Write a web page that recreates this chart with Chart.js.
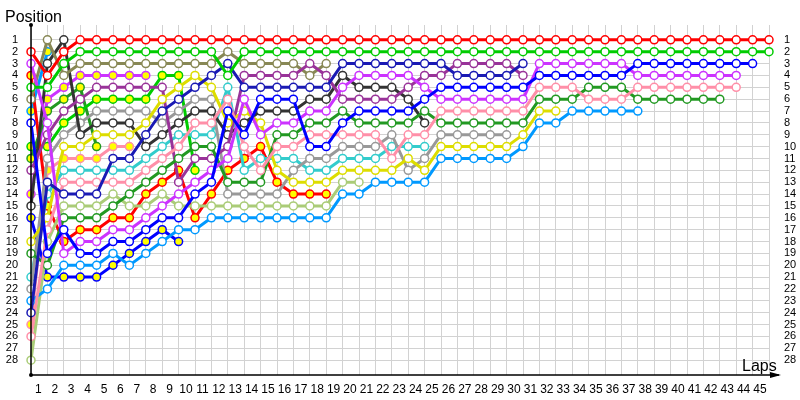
<!DOCTYPE html>
<html>
<head>
<meta charset="utf-8">
<script src="https://cdn.jsdelivr.net/npm/chart.js@4"></script>
<style>
  html, body { margin: 0; padding: 0; background: #fff; }
  #wrap { width: 800px; height: 400px; }
</style>
</head>
<body>
<div id="wrap"><canvas id="lapChart" width="800" height="400"></canvas></div>
<script>
// lap numbers, 0 = grid
var laps = ['0','1','2','3','4','5','6','7','8','9','10','11','12','13','14','15','16','17','18','19','20','21','22','23','24','25','26','27','28','29','30','31','32','33','34','35','36','37','38','39','40','41','42','43','44','45'];
var positions = [1,2,3,4,5,6,7,8,9,10,11,12,13,14,15,16,17,18,19,20,21,22,23,24,25,26,27,28];

// position of each car per lap (index = lap)
var red = [2,4,2,1,1,1,1,1,1,1,1,1,1,1,1,1,1,1,1,1,1,1,1,1,1,1,1,1,1,1,1,1,1,1,1,1,1,1,1,1,1,1,1,1,1,1];
var green = [5,5,3,2,2,2,2,2,2,2,2,2,4,2,2,2,2,2,2,2,2,2,2,2,2,2,2,2,2,2,2,2,2,2,2,2,2,2,2,2,2,2,2,2,2,2];
var olive = [6,1,4,3,3,3,3,3,3,3,3,3,2,3,3,3,3,4,3];
var violet = [3,8,19,18,18,17,17,16,15,14,13,12,11,6,9,8,8,7,7,5,4,4,4,4,5,6,6,6,6,6,6,3,3,3,3,3,3,4,4,4,4,4,4,4];
var purple = [12,9,7,6,5,5,5,5,5,13,11,11,10,4,4,4,4,3,4,6,6,6,6,5,4,4,3,3,3,3,4];
var navy = [24,13,14,14,14,11,11,9,7,6,5,4,3,5,5,5,5,5,5,3,3,3,3,3,3,3,4,4,4,4,3];
var blue = [8,19,17,19,19,18,18,17,16,16,14,13,7,9,6,6,6,10,10,8,7,7,7,7,6,5,5,5,5,5,5,4,4,4,4,4,4,3,3,3,3,3,3,3,3];
var dark = [15,3,1,9,8,8,8,10,9,8,7,7,9,8,7,7,7,6,6,4,5,5,5,6,8];
var yellow = [18,16,10,10,9,9,9,8,6,5,4,5,8,7,8,12,13,13,13,12,12,12,12,11,12,10,10,10,10,10,9,7,7];
var grey = [22,11,9,8,7,7,7,7,8,7,6,6,14,14,14,14,12,11,11,10,10,10,9,12,11,9,9,9,9,9];
var pink = [26,17,13,13,13,13,13,12,11,10,8,8,6,10,12,10,10,9,9,9,9,9,11,9,9,7,7,7,7,7,7,5,5,5,6,6,6,5,5,5,5,5,5,5];
var cyan = [21,14,12,12,12,12,12,11,10,9,9,9,5,12,11,11,11,12,12,11,11,11,10,10,10];
var forest = [19,20,16,16,16,15,14,13,12,11,10,10,13,13,13,9,9,8,8,7,8,8,8,8,7,8,8,8,8,8,8,6,6,6,5,5,5,6,6,6,6,6,6];
var lime = [28,18,15,15,15,14,15,15,14,15,15,15,15,15,15,15,15,15,15,13,13];
var sky = [23,22,20,20,20,19,20,19,18,17,17,16,16,16,16,16,16,16,16,14,14,13,13,13,13,11,11,11,11,11,10,8,8,7,7,7,7,7];
var redB = [4,15,18,17,17,16,16,14,13,12,16,14,12,11,10,13,14,14,14];
var greenB = [10,10,8,7,6,6,6,6,4,4,12];
var forestB = [11,7,6,5,10];
var violetB = [14,6,5,4,4,4,4,4];
var skyB = [7,2];
var blueB = [16,21,21,21,21,20,19,18,17,18];
var pinkB = [25,12,11,11,11,10,10];

var WHITE = '#ffffff', YEL = '#ffff00';
var cars = [
  [red, '#ff0000', WHITE], [green, '#00cc00', WHITE], [navy, '#1a1ab4', WHITE],
  [blue, '#0000ff', WHITE], [violet, '#cc33ff', WHITE], [pink, '#ff8fa8', WHITE],
  [forest, '#229922', WHITE], [sky, '#0099ff', WHITE], [yellow, '#dddd00', WHITE],
  [purple, '#993399', WHITE], [olive, '#888855', WHITE], [dark, '#333333', WHITE],
  [grey, '#999999', WHITE], [cyan, '#33cccc', WHITE], [lime, '#aacc77', WHITE],
  [redB, '#ff0000', YEL], [greenB, '#00cc00', YEL], [forestB, '#229922', YEL],
  [violetB, '#cc33ff', YEL], [skyB, '#0099ff', YEL], [blueB, '#0000ff', YEL],
  [pinkB, '#ff8fa8', YEL]
];

var datasets = cars.map(function (c) {
  return {
    data: c[0],
    borderColor: c[1],
    backgroundColor: c[1],
    borderWidth: 3,
    pointRadius: 4,
    pointBorderWidth: 1.5,
    pointBorderColor: c[1],
    pointBackgroundColor: c[2],
    tension: 0
  };
});

var tickFont = { family: 'Liberation Sans', size: 12 };
var setPositionTicks = function (s) {
  s.ticks = positions.map(function (v) { return { value: v }; });
};

var decor = {
  id: 'decor',
  afterDraw: function (chart) {
    var ctx = chart.ctx, a = chart.chartArea;
    ctx.save();
    ctx.strokeStyle = '#000';
    ctx.fillStyle = '#000';
    ctx.lineWidth = 1.5;
    ctx.beginPath();
    ctx.moveTo(a.left, a.top);
    ctx.lineTo(a.left, a.bottom);
    ctx.lineTo(a.right + 10, a.bottom);
    ctx.stroke();
    // arrow on the lap axis
    ctx.beginPath();
    ctx.moveTo(a.right + 12, a.bottom);
    ctx.lineTo(a.right + 1, a.bottom - 3);
    ctx.lineTo(a.right + 1, a.bottom + 3);
    ctx.closePath();
    ctx.fill();
    // dots at the ends of the position axis
    ctx.beginPath();
    ctx.arc(a.left, a.top, 2, 0, Math.PI * 2);
    ctx.arc(a.left, a.bottom, 2, 0, Math.PI * 2);
    ctx.fill();
    ctx.font = '16px "Liberation Sans"';
    ctx.textBaseline = 'alphabetic';
    ctx.textAlign = 'left';
    ctx.fillText('Position', 5, 22);
    ctx.fillText('Laps', 742, 371);
    ctx.restore();
  }
};

var posTicks = function (pad) {
  return {
    autoSkip: false, padding: pad, color: '#000',
    font: { family: 'Liberation Sans', size: 11 }
  };
};

new Chart(document.getElementById('lapChart'), {
  type: 'line',
  data: { labels: laps, datasets: datasets },
  plugins: [decor],
  options: {
    responsive: false,
    animation: false,
    layout: { padding: { top: 25, left: 0, right: 0, bottom: 0 } },
    plugins: { legend: { display: false }, tooltip: { enabled: false } },
    scales: {
      x: {
        offset: false,
        grid: { color: '#d2d2d2', drawTicks: false },
        border: { display: false },
        ticks: {
          autoSkip: false, maxRotation: 0, padding: 7, labelOffset: -9,
          color: '#000', font: tickFont,
          callback: function (v, i) { return i === 0 ? '' : laps[i]; }
        },
        afterFit: function (s) { s.height = 25; }
      },
      y: {
        position: 'left', reverse: true, min: -0.25, max: 29.25,
        afterBuildTicks: setPositionTicks,
        grid: { color: '#d2d2d2', drawTicks: false },
        border: { display: false },
        ticks: posTicks(13),
        afterFit: function (s) { s.width = 31; }
      },
      y2: {
        position: 'right', reverse: true, min: -0.25, max: 29.25,
        afterBuildTicks: setPositionTicks,
        grid: { display: false },
        border: { display: false },
        ticks: posTicks(7),
        afterFit: function (s) { s.width = 31; }
      }
    }
  }
});
</script>
</body>
</html>
